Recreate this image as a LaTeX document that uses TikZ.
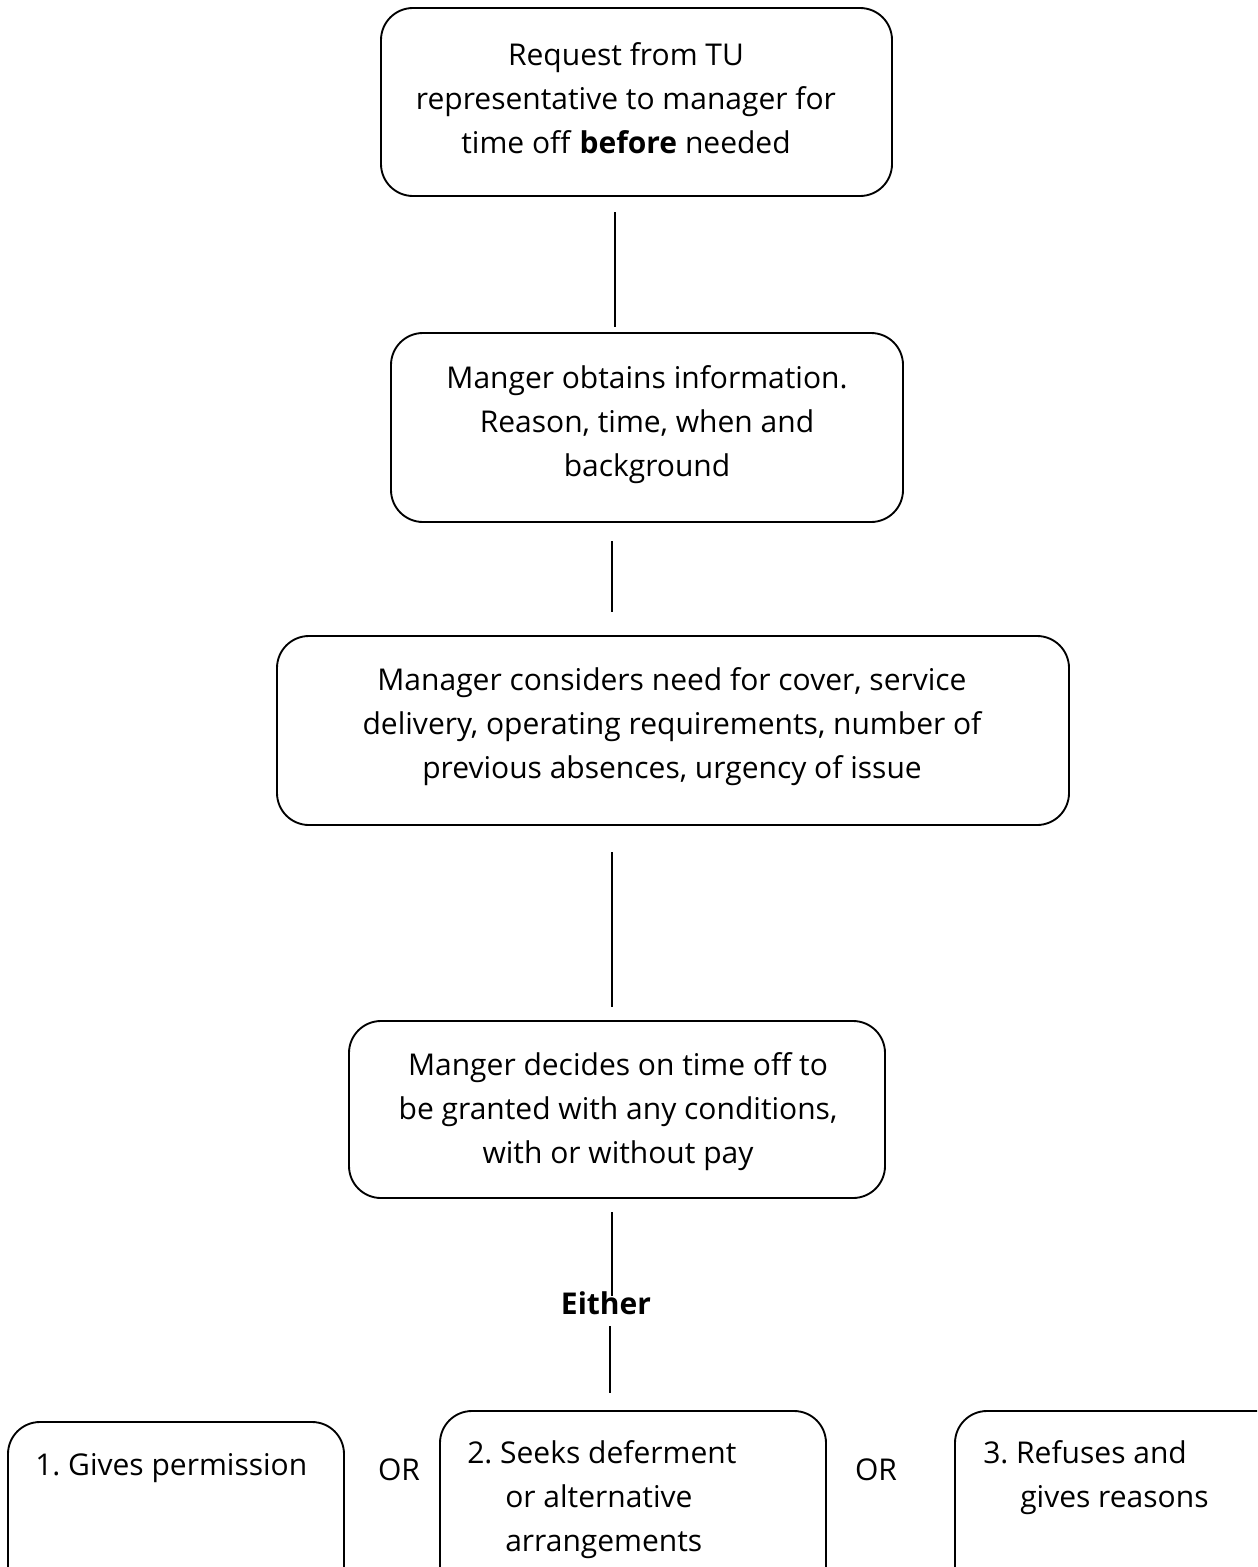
\documentclass[tikz,border=0pt]{standalone}
\usepackage{fontspec}
\setmainfont{Open Sans}
\frenchspacing
\begin{document}
\begin{tikzpicture}[x=0.75pt,y=-0.75pt,
  box/.style={draw=black,line width=1.4pt,rounded corners=24pt,inner sep=0pt},
  txt/.style={align=center,inner sep=0pt,font=\fontsize{22.5}{33}\selectfont},
  ltxt/.style={anchor=base west,inner sep=0pt,font=\fontsize{22.5}{33}\selectfont},
  conn/.style={line width=1.4pt}]
\useasboundingbox (0,0) rectangle (1257,1567);
\clip (0,0) rectangle (1257,1567);
% boxes
\node[box,minimum width=383.25pt,minimum height=141pt] (b1) at (636.5,102) {};
\node[txt] (t1) at (626,98) {Request from TU\\representative to manager for\\time off \textbf{before} needed};
\node[box,minimum width=384pt,minimum height=141.75pt] (b2) at (647,427.5) {};
\node[txt] (t2) at (647,425) {Manger obtains information.\\Reason, time, when and\\background};
\node[box,minimum width=594pt,minimum height=141.75pt] (b3) at (673,730.5) {};
\node[txt] (t3) at (672,727) {Manager considers need for cover, service\\delivery, operating requirements, number of\\previous absences, urgency of issue};
\node[box,minimum width=402pt,minimum height=132.75pt] (b4) at (617,1109.5) {};
\node[txt] (t4) at (618,1112) {Manger decides on time off to\\be granted with any conditions,\\with or without pay};
% bottom boxes (cut by the page edge)
\node[box,minimum width=252pt,minimum height=150pt] (b5) at (176,1522) {};
\node[box,minimum width=289.5pt,minimum height=150pt] (b6) at (633,1511) {};
\node[box,minimum width=251.25pt,minimum height=150pt] (b7) at (1122.5,1511) {};
\node[ltxt] (t5) at (35,1475) {1. Gives permission};
\node[ltxt] (t6a) at (467,1463) {2. Seeks deferment};
\node[ltxt] (t6b) at (505,1507) {or alternative};
\node[ltxt] (t6c) at (505,1551) {arrangements};
\node[ltxt] (t7a) at (983,1463) {3. Refuses and};
\node[ltxt] (t7b) at (1020,1507) {gives reasons};
\node[anchor=base,inner sep=0pt,font=\fontsize{22.5}{33}\selectfont] (or1) at (399,1480) {OR};
\node[anchor=base,inner sep=0pt,font=\fontsize{22.5}{33}\selectfont] (or2) at (876,1480) {OR};
\node[anchor=base,inner sep=0pt,font=\fontsize{22.5}{33}\selectfont\bfseries] (either) at (606,1314) {Either};
% connectors
\coordinate (c1a) at (615,212); \coordinate (c1b) at (615,327);
\coordinate (c2a) at (612,541); \coordinate (c2b) at (612,612);
\coordinate (c3a) at (612,852); \coordinate (c3b) at (612,1007);
\coordinate (c4a) at (612,1212); \coordinate (c4b) at (612,1296);
\coordinate (c5a) at (610,1326); \coordinate (c5b) at (610,1393);
\draw[conn] (c1a) -- (c1b);
\draw[conn] (c2a) -- (c2b);
\draw[conn] (c3a) -- (c3b);
\draw[conn] (c4a) -- (c4b);
\draw[conn] (c5a) -- (c5b);
\end{tikzpicture}
\end{document}
